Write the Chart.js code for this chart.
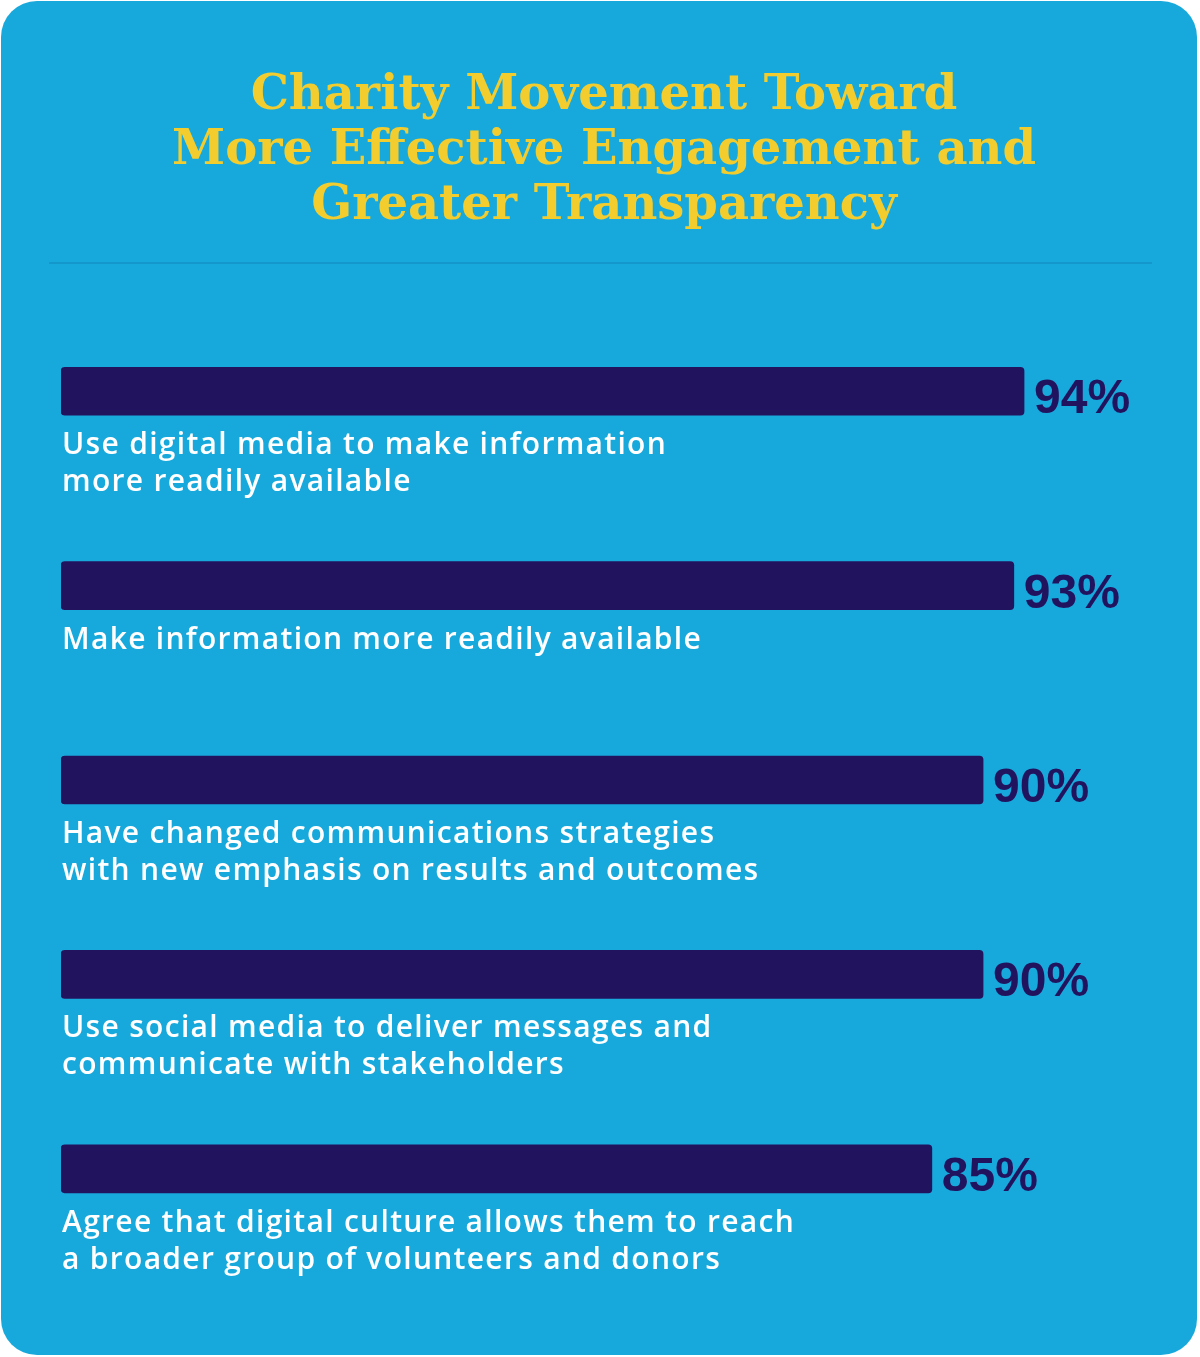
<!DOCTYPE html>
<html>
<head>
<meta charset="utf-8">
<script src="https://cdn.jsdelivr.net/npm/chart.js@4"></script>
<style>
  html, body { margin: 0; padding: 0; background: #ffffff; }
  #carta {
    position: absolute; left: 1px; top: 1px; width: 1196px; height: 1354px;
    background: #18a9dc; border-radius: 36px;
  }
  #fazer_barras { position: absolute; left: 0; top: 0; }
</style>
</head>
<body>
<div id="carta"></div>
<canvas id="fazer_barras" width="1200" height="1357"></canvas>
<script>
// dados
const titulo = [
  'Charity Movement Toward',
  'More Effective Engagement and',
  'Greater Transparency'
];
const categorias = [
  ['Use digital media to make information', 'more readily available'],
  ['Make information more readily available'],
  ['Have changed communications strategies', 'with new emphasis on results and outcomes'],
  ['Use social media to deliver messages and', 'communicate with stakeholders'],
  ['Agree that digital culture allows them to reach', 'a broader group of volunteers and donors']
];
const valores = [94, 93, 90, 90, 85];

const corBarra = '#22135f';
const corTitulo = '#f3cd2e';

// desenha a linha divisoria, rotulos abaixo das barras e valores
const rotulosPlugin = {
  id: 'rotulos',
  beforeDraw(chart) {
    const ctx = chart.ctx;
    ctx.save();
    ctx.strokeStyle = '#1392c4';
    ctx.lineWidth = 1.5;
    ctx.beginPath();
    ctx.moveTo(49, 263);
    ctx.lineTo(1152, 263);
    ctx.stroke();
    ctx.restore();
  },
  afterDatasetsDraw(chart) {
    const ctx = chart.ctx;
    const meta = chart.getDatasetMeta(0);
    ctx.save();
    meta.data.forEach((barra, i) => {
      const esquerda = barra.base;
      // valor
      ctx.font = 'bold 48px "Liberation Sans", Arial, sans-serif';
      ctx.letterSpacing = '0px';
      ctx.fillStyle = corBarra;
      ctx.textAlign = 'left';
      ctx.textBaseline = 'alphabetic';
      ctx.fillText(valores[i] + '%', barra.x + 10, barra.y + 22);
      // categoria
      ctx.font = '600 30px "Open Sans", sans-serif';
      ctx.letterSpacing = '1.3px';
      ctx.fillStyle = '#ffffff';
      categorias[i].forEach((linha, j) => {
        ctx.fillText(linha, esquerda + 1, barra.y + 63 + j * 37);
      });
    });
    ctx.restore();
  }
};

const ctx = document.getElementById('fazer_barras').getContext('2d');
new Chart(ctx, {
  type: 'bar',
  data: {
    labels: categorias.map(c => c.join(' ')),
    datasets: [{
      data: valores,
      backgroundColor: corBarra,
      borderRadius: 4,
      borderSkipped: false,
      barThickness: 48,
    }],
  },
  options: {
    indexAxis: 'y',
    responsive: false,
    animation: false,
    layout: { padding: { top: 0, left: 61, right: 53, bottom: 91 } },
    scales: {
      x: { display: false, min: 0, max: 106 },
      y: { display: false },
    },
    plugins: {
      legend: { display: false },
      tooltip: { enabled: false },
      title: {
        display: true,
        text: titulo,
        color: corTitulo,
        font: { family: '"DejaVu Serif", serif', size: 48, weight: 'bold', lineHeight: 1.146 },
        padding: { top: 69, bottom: 60 },
      },
    },
  },
  plugins: [rotulosPlugin],
});
</script>
</body>
</html>
